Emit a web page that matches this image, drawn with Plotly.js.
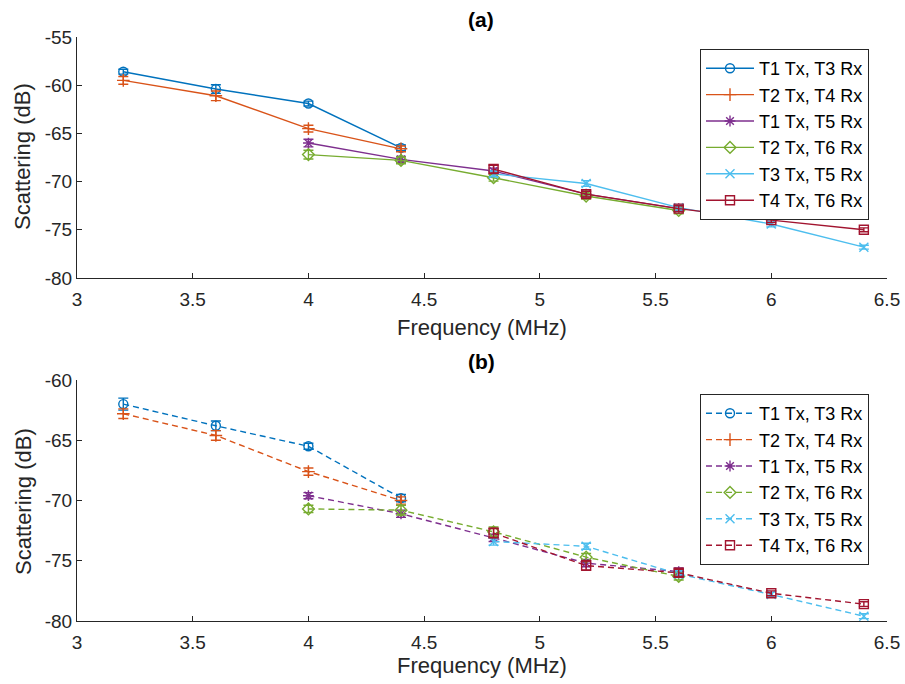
<!DOCTYPE html>
<html>
<head>
<meta charset="utf-8">
<script src="https://cdn.plot.ly/plotly-3.0.1.min.js"></script>
<style>html,body{margin:0;padding:0;background:#fff;}#chart{width:905px;height:684px;}</style>
</head>
<body>
<div id="chart"></div>
<script>
// ---- Data ----
var seriesNames = ["T1 Tx, T3 Rx", "T2 Tx, T4 Rx", "T1 Tx, T5 Rx", "T2 Tx, T6 Rx", "T3 Tx, T5 Rx", "T4 Tx, T6 Rx"];
var freqLow = [3.2, 3.6, 4.0, 4.4];
var freqMid = [4.0, 4.4, 4.8, 5.2, 5.6];
var freqHigh = [4.8, 5.2, 5.6, 6.0, 6.4];

// (a)
var a_T1T3 = [-58.6, -60.4, -61.9, -66.5];
var a_T1T3_err = [0.25, 0.45, 0.25, 0.3];
var a_T2T4 = [-59.5, -61.1, -64.5, -66.6];
var a_T2T4_err = [0.4, 0.5, 0.35, 0.3];
var a_T1T5 = [-66.0, -67.7, -68.9, -71.3, -72.8];
var a_T1T5_err = [0.4, 0.3, 0.3, 0.3, 0.3];
var a_T2T6 = [-67.2, -67.8, -69.6, -71.5, -73.0];
var a_T2T6_err = [0.45, 0.35, 0.35, 0.3, 0.35];
var a_T3T5 = [-69.2, -70.2, -72.7, -74.4, -76.8];
var a_T3T5_err = [0.3, 0.3, 0.3, 0.3, 0.2];
var a_T4T6 = [-68.7, -71.3, -72.8, -74.0, -75.0];
var a_T4T6_err = [0.4, 0.3, 0.3, 0.25, 0.2];

// (b)
var b_T1T3 = [-62.0, -63.8, -65.5, -69.8];
var b_T1T3_err = [0.5, 0.4, 0.25, 0.3];
var b_T2T4 = [-62.8, -64.6, -67.6, -70.0];
var b_T2T4_err = [0.4, 0.4, 0.3, 0.3];
var b_T1T5 = [-69.6, -71.1, -73.1, -75.2, -75.9];
var b_T1T5_err = [0.25, 0.3, 0.3, 0.3, 0.3];
var b_T2T6 = [-70.7, -70.8, -72.6, -74.7, -76.3];
var b_T2T6_err = [0.3, 0.4, 0.4, 0.3, 0.3];
var b_T3T5 = [-73.4, -73.8, -76.1, -77.8, -79.6];
var b_T3T5_err = [0.3, 0.25, 0.3, 0.2, 0.2];
var b_T4T6 = [-72.7, -75.4, -76.0, -77.7, -78.6];
var b_T4T6_err = [0.4, 0.4, 0.3, 0.2, 0.2];

var xTicks = [3, 3.5, 4, 4.5, 5, 5.5, 6, 6.5];
var xTickText = ["3", "3.5", "4", "4.5", "5", "5.5", "6", "6.5"];
var yTicksA = [-80, -75, -70, -65, -60, -55];
var yTickTextA = ["-80", "-75", "-70", "-65", "-60", "-55"];
var yTicksB = [-80, -75, -70, -65, -60];
var yTickTextB = ["-80", "-75", "-70", "-65", "-60"];

// ---- Styles ----
var colors = ["#0072BD", "#D95319", "#7E2F8E", "#77AC30", "#4DBEEE", "#A2142F"];
var symbols = ["circle-open", "cross-thin-open", "asterisk-open", "diamond-open", "x-thin-open", "square-open"];
var xsets = [freqLow, freqLow, freqMid, freqMid, freqHigh, freqHigh];
var aVals = [a_T1T3, a_T2T4, a_T1T5, a_T2T6, a_T3T5, a_T4T6];
var aErrs = [a_T1T3_err, a_T2T4_err, a_T1T5_err, a_T2T6_err, a_T3T5_err, a_T4T6_err];
var bVals = [b_T1T3, b_T2T4, b_T1T5, b_T2T6, b_T3T5, b_T4T6];
var bErrs = [b_T1T3_err, b_T2T4_err, b_T1T5_err, b_T2T6_err, b_T3T5_err, b_T4T6_err];

var traces = [];
function mk(i, vals, errs, xa, ya, leg, dash) {
  return {
    type: "scatter", mode: "lines+markers",
    x: xsets[i], y: vals[i], name: seriesNames[i],
    xaxis: xa, yaxis: ya, legend: leg,
    line: {color: colors[i], width: 1.4, dash: dash},
    marker: {symbol: symbols[i], size: 9, color: colors[i], line: {color: colors[i], width: 1.4}},
    error_y: {type: "data", array: errs[i], visible: true, color: colors[i], thickness: 1.4, width: 5}
  };
}
for (var i = 0; i < 6; i++) traces.push(mk(i, aVals, aErrs, "x", "y", "legend", "solid"));
for (var i = 0; i < 6; i++) traces.push(mk(i, bVals, bErrs, "x2", "y2", "legend2", "6px,4px"));

var W = 905, H = 684;
var axColor = "#262626";
var fontFam = "Liberation Sans, Arial, Helvetica, sans-serif";
function xaxis(anchor) {
  return {
    domain: [77 / W, 887 / W], anchor: anchor, range: [3, 6.5],
    tickvals: xTicks, ticktext: xTickText, ticks: "inside", ticklen: 5, tickcolor: axColor,
    showline: true, linecolor: axColor, linewidth: 1, showgrid: false, zeroline: false,
    ticklabelstandoff: 4,
    tickfont: {family: fontFam, size: 19, color: axColor}
  };
}
function yaxis(anchor, top, bottom, range, tv, tt) {
  return {
    domain: [1 - bottom / H, 1 - top / H], anchor: anchor, range: range,
    tickvals: tv, ticktext: tt, ticks: "inside", ticklen: 5, tickcolor: axColor,
    showline: true, linecolor: axColor, linewidth: 1, showgrid: false, zeroline: false,
    tickfont: {family: fontFam, size: 19, color: axColor}
  };
}
function legend(top) {
  return {
    x: 700 / W, y: 1 - top / H, xanchor: "left", yanchor: "top",
    bgcolor: "#ffffff", bordercolor: axColor, borderwidth: 1, itemwidth: 48,
    font: {family: fontFam, size: 18, color: "#000"}, tracegroupgap: 0
  };
}
var ann = function (text, x, y, opts) {
  var o = {text: text, x: x / W, y: 1 - y / H, xref: "paper", yref: "paper", showarrow: false,
    xanchor: "center", yanchor: "middle", font: {family: fontFam, size: 22, color: axColor}};
  for (var k in opts) o[k] = opts[k];
  return o;
};

var layout = {
  width: W, height: H,
  margin: {l: 0, r: 0, t: 0, b: 0},
  paper_bgcolor: "#fff", plot_bgcolor: "#fff",
  xaxis: xaxis("y"),
  yaxis: yaxis("x", 37, 278, [-80, -55], yTicksA, yTickTextA),
  xaxis2: xaxis("y2"),
  yaxis2: yaxis("x2", 380, 621, [-80, -60], yTicksB, yTickTextB),
  legend: legend(49),
  legend2: legend(394),
  annotations: [
    ann("<b>(a)</b>", 481, 19, {font: {family: fontFam, size: 21, color: "#000"}}),
    ann("<b>(b)</b>", 481, 361, {font: {family: fontFam, size: 21, color: "#000"}}),
    ann("Frequency (MHz)", 482, 327, {}),
    ann("Frequency (MHz)", 482, 665, {}),
    ann("Scattering (dB)", 23, 157, {textangle: -90}),
    ann("Scattering (dB)", 23, 502, {textangle: -90})
  ]
};

Plotly.newPlot("chart", traces, layout, {displayModeBar: false, staticPlot: true});
</script>
</body>
</html>
